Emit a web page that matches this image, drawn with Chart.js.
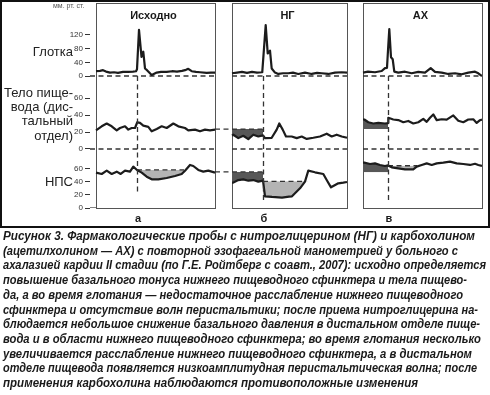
<!DOCTYPE html>
<html><head><meta charset="utf-8">
<script src="https://cdn.jsdelivr.net/npm/chart.js@4.4.0/dist/chart.umd.min.js"></script>
<style>
html,body{margin:0;padding:0;background:#fff;width:490px;height:395px;overflow:hidden;position:relative;}
#frame{position:absolute;left:0;top:0;width:486px;height:224px;border:2px solid #111;}
#wrap{position:absolute;left:0;top:0;width:490px;height:230px;}
.lab{position:absolute;font-family:"Liberation Sans",Arial,sans-serif;font-size:13px;color:#222;text-align:right;line-height:14.2px;right:417px;white-space:nowrap;}
#unit{position:absolute;left:53px;top:2px;font-family:"Liberation Sans",Arial,sans-serif;font-size:7px;color:#555;}
#cap{position:absolute;left:3px;top:229px;font-family:"Liberation Sans",Arial,sans-serif;font-weight:bold;font-style:italic;font-size:12px;color:#1a1a1a;}
#cap div{height:14.73px;line-height:14.73px;white-space:nowrap;transform-origin:0 50%;}
</style></head><body>
<div id="frame"></div>
<div id="wrap"><canvas id="c" width="490" height="230"></canvas></div>
<div id="unit">мм. рт. ст.</div>
<div class="lab" style="top:45px">Глотка</div>
<div class="lab" style="top:86px">Тело пище-<br>вода (дис-<br>тальный<br>отдел)</div>
<div class="lab" style="top:174.5px">НПС</div>
<div id="cap"></div>
<script>
// ---------- data (local x inside each panel, value in mm Hg) ----------
const panelTitles = ['Исходно', 'НГ', 'АХ'];
const panelLetters = ['а', 'б', 'в'];
const glotkaTicks = [0, 40, 80, 120];
const bodyTicks = [0, 20, 40, 60];
const npsTicks = [0, 20, 40, 60];

const swallowX = [41, 31, 25];       // swallow marker inside each panel
const swallowEnd = [20, 8, 8];       // where the marker ends on the НПС scale

const p1G = [[0,14],[4,15],[7,17],[10,13],[14,10],[18,11],[22,9],[27,12],[32,12],[37,13],[40,14],[41,20],[43,135],[45.5,56],[47.3,71],[49,22],[51,17],[55.7,3],[60.7,10],[65,12],[70.7,12],[76,14],[81,13],[86,15],[90,18],[92.3,21],[95.7,14],[100,12],[104,11],[110.7,9],[115,10],[119,10]];
const p2G = [[0,8],[5,10],[10,12],[15,9],[20,12],[25,10],[30,11],[30.3,13],[33.7,149],[35.7,66],[38,74],[39.7,22],[43,10],[46.3,6],[51,8],[56.3,8],[61,10],[66.3,6],[73,10],[79.7,6],[85,9],[89.7,8],[96.3,6],[103,10],[109.7,11],[115,10]];
const p3G = [[0,10],[5,12.6],[12,11],[18.7,14.6],[22,23],[24,24],[25.3,90],[26.3,137],[28,55],[29.7,49],[31.3,13],[35.3,10],[42,12.6],[48.7,8],[55.3,12],[62,10],[67.7,23],[72,12],[78.7,10],[85.3,6],[92,8],[98.7,5],[105.3,10],[112,12.6],[115.3,8],[119,0]];

const p1B = [[0,22],[5.7,26.7],[10.7,30],[15.7,26.7],[20.7,22],[24,24.7],[29,26.7],[32.3,22.8],[35.7,24.7],[39,24.7],[41.3,31.5],[44,30.7],[47.3,27.5],[52.3,26],[55.7,20.8],[60.7,23.6],[65.7,26.7],[70.7,24.7],[77.3,30],[82.3,26.7],[89,24.7],[92.3,22],[99,22.8],[104,20.8],[109,22.8],[114,22],[119,22.8]];
const p2B = [[0,16],[1.3,16.8],[6.3,12.8],[11.3,15.6],[16.3,11.6],[21.3,16.8],[26.3,14.7],[31,16],[33,12.8],[39.7,13.2],[44.7,22.8],[47.3,30],[50.7,22.8],[54,14.7],[59.7,14.7],[64.7,12.8],[69.7,14.7],[74.7,11.9],[81.3,13.2],[88,14.7],[94.7,18],[99.7,14.7],[104.7,16.8],[109.7,14.7],[115,13.2]];
const p3B = [[0,34.7],[1.3,34.7],[5.3,31.5],[10.3,30],[15.3,30.7],[22,30],[25,30.5],[25.3,36.7],[30.3,34.7],[35.3,34],[40.3,31.5],[45.3,33],[50.3,30],[55.3,31.5],[60.3,35.5],[63.7,32],[67,36.7],[70.3,40.7],[73.7,34],[78.7,35],[83.7,34.5],[90.3,39.5],[95.3,33.2],[100.3,31.5],[105.3,34.7],[110.3,35],[113.7,30.7],[117,33.9],[119,34.7]];

const p1N = [[0,54.4],[5.7,52.3],[10.7,57.4],[15.7,52.3],[20.7,55.9],[24.7,52.3],[29,57.4],[34,55.9],[37.3,63.6],[41,58.5],[45.7,54.4],[50.7,48.2],[55.7,44.1],[62.3,44.1],[70.7,46.2],[79,49.2],[85.7,52.3],[89,57.4],[94,66.2],[97.3,64.6],[102.3,58.5],[107.3,55.9],[112.3,57.4],[119,54.4]];
const p2N = [[0,39],[1.3,39],[6.3,43],[11.3,44],[16.3,42],[21.3,43],[26.3,40.5],[31,42],[32,30],[33,18],[40,17],[50,16],[57,17.5],[60,18],[63,22.6],[68,30.3],[73,40.5],[76.3,57.4],[83,54.9],[91.3,52.3],[94.7,43],[99,31.8],[101.3,33.8],[106.3,38],[111.3,39],[115,40]];
const p3N = [[0,69.7],[1.3,69.7],[7,67.7],[12,68.7],[17,66.2],[22,64.6],[25,65.5],[28.7,62.6],[35.3,61],[42,59.5],[50.3,59.5],[53.7,63.6],[58.7,66.2],[63.7,68.7],[68.7,66.2],[73.7,68.7],[80.3,69.7],[87,71.3],[93.7,68.7],[100.3,67.7],[107,66.2],[112,68],[115.3,66.2],[119,64.6]];

// shaded areas: [panel, row, from, to, base level]
const fillPanels = [0, 1, 1, 1, 2, 2, 2];
const fillRows   = ['N','B','N','N','B','N','N'];
const fillFrom   = [41, 0, 0, 31, 0, 0, 25];
const fillTo     = [94, 31, 31, 77, 25, 25, 59];
const fillBase   = [58.5, 23.5, 55.5, 41, 23.5, 55, 65];
const fillSide   = ['below','below','below','below','above','above','below'];
const fillDark   = [false, true, true, false, true, true, false];

// dashed levels shown above the light shading
const levelPanels = [0, 1, 2];
const levelFrom = [41, 31, 25];
const levelTo = [88, 73, 54];
const levelValue = [58.5, 41, 65];
const carryBody = 23.5;   // body baseline carried from panel 1 to swallow in panel 2
const carryNps = 55.5;    // НПС baseline carried from panel 1 to swallow in panel 2

const captionLines = [
 'Рисунок 3. Фармакологические пробы с нитроглицерином (НГ) и карбохолином',
 '(ацетилхолином — АХ) с повторной эзофагеальной манометрией у больного с',
 'ахалазией кардии II стадии (по Г.Е. Ройтберг с соавт., 2007): исходно определяется',
 'повышение базального тонуса нижнего пищеводного сфинктера и тела пищево-',
 'да, а во время глотания — недостаточное расслабление нижнего пищеводного',
 'сфинктера и отсутствие волн перистальтики; после приема нитроглицерина на-',
 'блюдается небольшое снижение базального давления в дистальном отделе пище-',
 'вода и в области нижнего пищеводного сфинктера; во время глотания несколько',
 'увеличивается расслабление нижнего пищеводного сфинктера, а в дистальном',
 'отделе пищевода появляется низкоамплитудная перистальтическая волна; после',
 'применения карбохолина наблюдаются противоположные изменения'
];

// ---------- layout ----------
const panelStart = [0, 136, 267];
const panelWidth = [119, 115, 119];
const X_MIN = -6, X_MAX = 386;
const captionRight = [475, 458, 486, 467, 463, 478, 480, 481, 472, 477, 418];

const curves = {G: [p1G, p2G, p3G], B: [p1B, p2B, p3B], N: [p1N, p2N, p3N]};
const axisOf = {G: 'yG', B: 'yB', N: 'yN'};
const toPts = (arr, p) => arr.map(([x, y]) => ({x: x + panelStart[p], y}));

const DASH = [5, 3.5];
const DCOL = '#333';
const datasets = [];

['G','B','N'].forEach(r => curves[r].forEach((arr, p) => {
  datasets.push({data: toPts(arr, p), yAxisID: axisOf[r], borderColor: '#1c1c1c', borderWidth: 2.2,
    pointRadius: 0, tension: 0, fill: false, order: 0, borderJoinStyle: 'round'});
}));

fillPanels.forEach((p, i) => {
  const src = curves[fillRows[i]][p].filter(([x]) => x >= fillFrom[i] && x <= fillTo[i]);
  const col = fillDark[i] ? '#575757' : '#b4b4b4';
  datasets.push({data: toPts(src, p), yAxisID: axisOf[fillRows[i]], borderColor: 'rgba(0,0,0,0)', borderWidth: 0.01,
    pointRadius: 0, tension: 0, order: 10,
    fill: {target: {value: fillBase[i]}, above: fillSide[i] === 'above' ? col : 'rgba(0,0,0,0)', below: fillSide[i] === 'below' ? col : 'rgba(0,0,0,0)'}});
});

function dashed(x0, x1, v, axis, solid) {
  datasets.push({data: [{x: x0, y: v}, {x: x1, y: v}], yAxisID: axis, borderColor: DCOL, borderWidth: solid ? 1.2 : 1.3,
    borderDash: solid ? [] : DASH, pointRadius: 0, fill: false, order: 5});
}
panelStart.forEach((s, p) => {
  const a = p === 0 ? X_MIN : s;
  dashed(a, s + panelWidth[p], 0, 'yG');
  dashed(a, s + panelWidth[p], 0, 'yB');
});
dashed(X_MIN, 0, 0, 'yN', true);
dashed(panelStart[0] + panelWidth[0], panelStart[1] + swallowX[1], carryBody, 'yB');
dashed(panelStart[0] + panelWidth[0], panelStart[1] + swallowX[1], carryNps, 'yN');
levelPanels.forEach((p, i) => dashed(panelStart[p] + levelFrom[i], panelStart[p] + levelTo[i], levelValue[i], 'yN'));

function yScale(min, max, w, sw, list) {
  return {type: 'linear', position: 'left', stack: 'rows', stackWeight: sw, weight: w, min, max,
    afterBuildTicks: s => { s.ticks = list.map(v => ({value: v})); },
    afterFit: s => { s.width = 40; s.paddingTop = 0; s.paddingBottom = 0; },
    grid: {drawOnChartArea: false, drawTicks: true, tickLength: 5, color: '#333', lineWidth: 1},
    border: {display: false},
    ticks: {font: {size: 8, family: 'Liberation Sans'}, color: '#333', padding: 2, autoSkip: false, callback: v => String(v)}};
}

const decor = {
  id: 'decor',
  beforeDatasetsDraw(chart) {
    const {ctx, chartArea: ca, scales: {x}} = chart;
    ctx.save();
    ctx.strokeStyle = '#555'; ctx.lineWidth = 1;
    panelStart.forEach((s, p) => {
      const x0 = Math.round(x.getPixelForValue(s)) + 0.5, x1 = Math.round(x.getPixelForValue(s + panelWidth[p])) + 0.5;
      ctx.strokeRect(x0, Math.round(ca.top) + 0.5, x1 - x0, Math.round(ca.bottom - ca.top));
    });
    ctx.restore();
  },
  afterDatasetsDraw(chart) {
    const {ctx, scales: {x, yG, yN}} = chart;
    ctx.save();
    ctx.strokeStyle = DCOL; ctx.lineWidth = 1.3; ctx.setLineDash(DASH);
    swallowX.forEach((sx, p) => {
      const px = Math.round(x.getPixelForValue(panelStart[p] + sx)) + 0.5;
      ctx.beginPath(); ctx.moveTo(px, yG.getPixelForValue(0)); ctx.lineTo(px, yN.getPixelForValue(swallowEnd[p])); ctx.stroke();
    });
    ctx.setLineDash([]);
    ctx.fillStyle = '#1a1a1a'; ctx.textAlign = 'center'; ctx.textBaseline = 'middle';
    ctx.font = 'bold 11px "Liberation Sans", Arial, sans-serif';
    panelTitles.forEach((t, p) => ctx.fillText(t, x.getPixelForValue(panelStart[p] + panelWidth[p] / 2) - 2, 16));
    panelLetters.forEach((t, p) => ctx.fillText(t, x.getPixelForValue(panelStart[p] + swallowX[p]) + 1, 219));
    ctx.restore();
  }
};

new Chart(document.getElementById('c'), {
  type: 'line',
  data: {datasets},
  options: {
    responsive: false, animation: false, devicePixelRatio: 1,
    layout: {padding: {left: 50, right: 8, top: 3, bottom: 22}},
    plugins: {legend: {display: false}, tooltip: {enabled: false}},
    scales: {
      x: {type: 'linear', min: X_MIN, max: X_MAX, display: false},
      yN: yScale(0, 76.9, 1, 50, npsTicks),
      yB: yScale(-10.6, 71.8, 2, 70, bodyTicks),
      yG: yScale(-35.1, 213.6, 3, 85, glotkaTicks)
    }
  },
  plugins: [decor]
});

// caption: each line fitted to the width it has in the original
const cap = document.getElementById('cap');
captionLines.forEach((t, i) => {
  const d = document.createElement('div');
  const s = document.createElement('span');
  s.textContent = t; d.appendChild(s); cap.appendChild(d);
  const w = s.getBoundingClientRect().width;
  d.style.transform = 'scaleX(' + ((captionRight[i] - 3) / w) + ')';
});
</script>
</body></html>
